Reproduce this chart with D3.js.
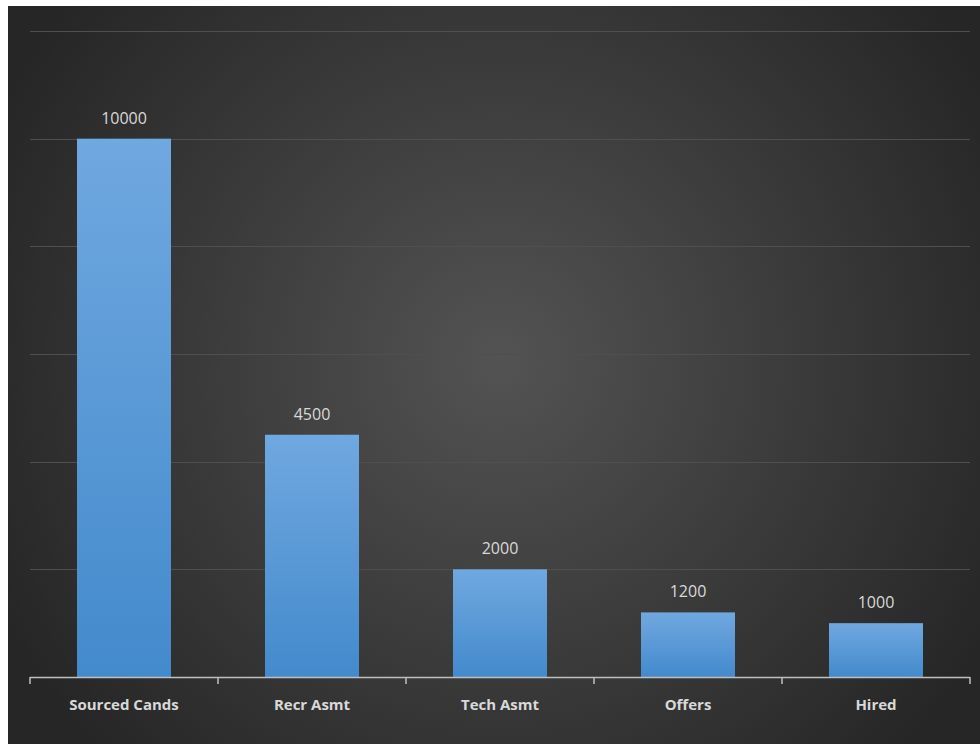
<!DOCTYPE html>
<html><head><meta charset="utf-8">
<script src="https://cdn.jsdelivr.net/npm/d3@7"></script>
<style>html,body{margin:0;padding:0;background:#fff;}svg{display:block;}</style>
</head><body>
<script>
const categories = ["Sourced Cands", "Recr Asmt", "Tech Asmt", "Offers", "Hired"];
const values = [10000, 4500, 2000, 1200, 1000];
const yTicks = [0, 2000, 4000, 6000, 8000, 10000, 12000];

const W = 980, H = 744;
const svg = d3.select("body").append("svg").attr("width", W).attr("height", H);
const defs = svg.append("defs");
const rg = defs.append("radialGradient").attr("id", "bg").attr("gradientUnits", "userSpaceOnUse")
  .attr("cx", 500).attr("cy", 360).attr("r", 560);
rg.append("stop").attr("offset", "0%").attr("stop-color", "#535353");
rg.append("stop").attr("offset", "55%").attr("stop-color", "#3a3a3a");
rg.append("stop").attr("offset", "100%").attr("stop-color", "#262626");
const bgd = defs.append("linearGradient").attr("id", "bar").attr("x1", 0).attr("y1", 0).attr("x2", 0).attr("y2", 1);
bgd.append("stop").attr("offset", "0%").attr("stop-color", "#70a8e0");
bgd.append("stop").attr("offset", "100%").attr("stop-color", "#438acc");

svg.append("rect").attr("x", 8).attr("y", 6).attr("width", W - 8).attr("height", H - 6).attr("fill", "url(#bg)");

const x = d3.scaleBand().domain(categories).range([30, 970]).paddingInner(0.5).paddingOuter(0.25);
const y = d3.scaleLinear().domain([0, 12000]).range([677, 31]);

// gridlines
svg.append("g").selectAll("line").data(yTicks.filter(d => d > 0)).join("line")
  .attr("x1", 30).attr("x2", 970)
  .attr("y1", d => Math.round(y(d)) + 0.5).attr("y2", d => Math.round(y(d)) + 0.5)
  .attr("stroke", "#4f4f4f").attr("stroke-width", 1);

// bars
svg.append("g").selectAll("rect").data(values).join("rect")
  .attr("x", (d, i) => x(categories[i]))
  .attr("width", x.bandwidth())
  .attr("y", d => y(d))
  .attr("height", d => y(0) - y(d))
  .attr("fill", "url(#bar)");

// value labels
svg.append("g").selectAll("text").data(values).join("text")
  .attr("x", (d, i) => x(categories[i]) + x.bandwidth() / 2)
  .attr("y", d => y(d) - 15)
  .attr("text-anchor", "middle")
  .attr("font-family", "'Open Sans', 'Noto Sans', sans-serif")
  .attr("font-size", 16)
  .attr("fill", "#d9d9d9")
  .text(d => d);

// x axis
const step = x.step();
const boundaries = d3.range(categories.length + 1).map(i => 30 + i * step);
const ax = svg.append("g");
ax.append("line").attr("x1", 30).attr("x2", 970).attr("y1", 677.5).attr("y2", 677.5)
  .attr("stroke", "#bfbfbf").attr("stroke-width", 1.5);
ax.selectAll("line.tick").data(boundaries).join("line").attr("class", "tick")
  .attr("x1", d => d).attr("x2", d => d).attr("y1", 677).attr("y2", 684)
  .attr("stroke", "#bfbfbf").attr("stroke-width", 1.5);
ax.selectAll("text").data(categories).join("text")
  .attr("x", d => x(d) + x.bandwidth() / 2)
  .attr("y", 710)
  .attr("text-anchor", "middle")
  .attr("font-family", "'Open Sans', 'Noto Sans', sans-serif")
  .attr("font-weight", "bold")
  .attr("font-size", 15)
  .attr("fill", "#d9d9d9")
  .text(d => d);
</script>
</body></html>
